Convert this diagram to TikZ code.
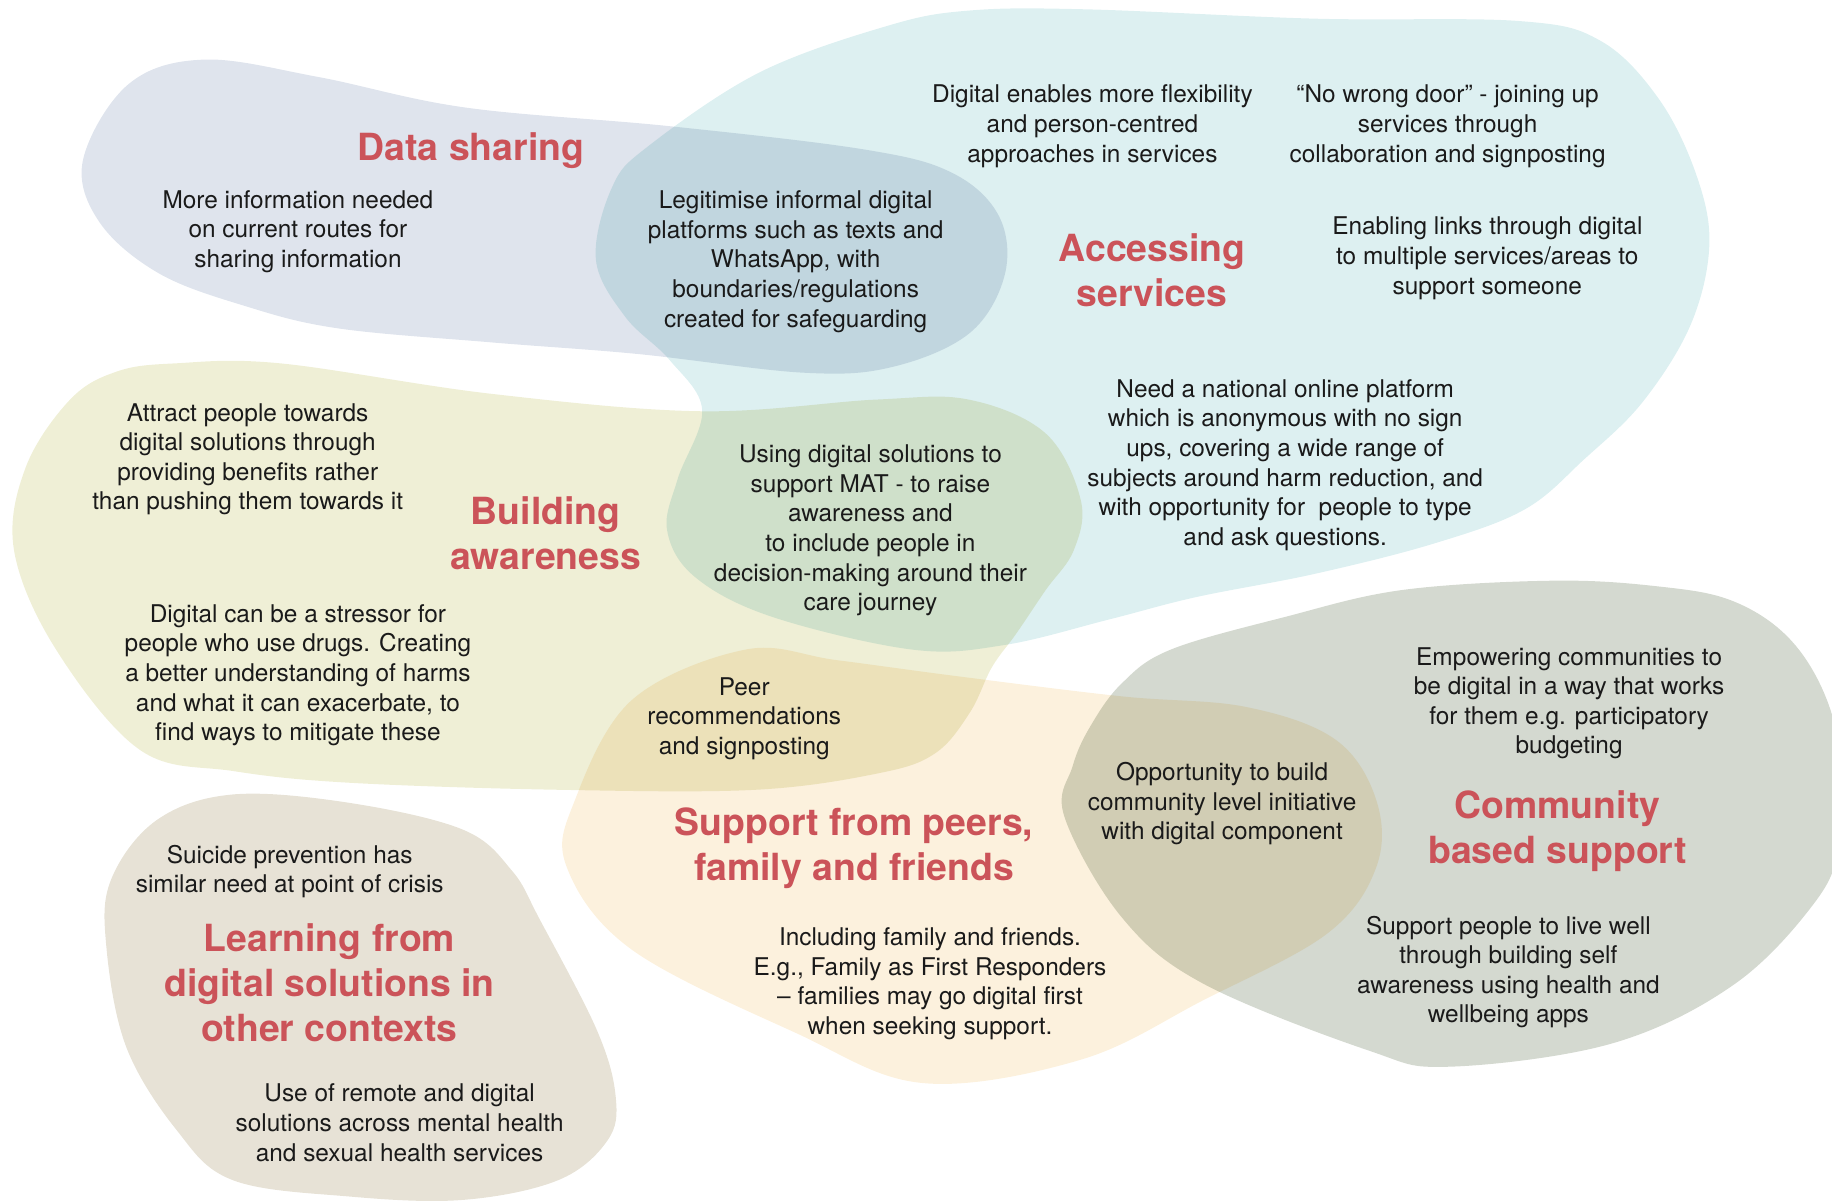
\documentclass[tikz,border=0pt]{standalone}
\usepackage{fontspec}
\setmainfont{TeX Gyre Heros}
\definecolor{lav}{HTML}{DFE4ED}
\definecolor{cya}{HTML}{DDF0F1}
\definecolor{yel}{HTML}{EFEFD6}
\definecolor{pea}{HTML}{FCF1DD}
\definecolor{gry}{HTML}{D4D9D0}
\definecolor{bei}{HTML}{E7E2D6}
\definecolor{ttlred}{HTML}{CB5359}
\definecolor{ink}{HTML}{1A1A1A}
\tikzset{
  txt/.style={align=center, inner sep=0pt, text=ink, font=\fontsize{12.2}{14.8}\selectfont},
  ttl/.style={align=center, inner sep=0pt, text=ttlred, font=\fontsize{18.7}{22.5}\selectfont\bfseries},
  blob/.style={smooth cycle, tension=0.6}
}
\begin{document}
\begin{tikzpicture}[x=0.5842pt, y=-0.5842pt]
\useasboundingbox (0,0) rectangle (1568,1028);
\clip (0,0) rectangle (1568,1028);
\begin{scope}[blend mode=multiply]
% Data sharing
\fill[lav] plot[blob] coordinates {(71,137) (85,190) (136,234) (210,262) (289,281) (420,293) (546,303) (688,319) (764,314) (830,285) (860,235) (855,185) (815,148) (740,128) (573,108) (398,92) (273,66) (175,51) (110,72)};
% Accessing services
\fill[cya] plot[blob] coordinates {(760,22) (830,9) (930,8) (1126,16) (1300,18) (1370,35) (1420,85) (1452,150) (1463,210) (1447,278) (1406,344) (1356,393) (1305,436) (1228,465) (1126,491) (1024,511) (950,530) (860,552) (781,556) (661,528) (595,494) (571,454) (580,410) (601,351) (573,308) (535,271) (510,222) (524,160) (555,125) (650,62)};
% Building awareness
\fill[yel] plot[blob] coordinates {(60,342) (100,318) (150,311) (240,311) (420,337) (600,352) (750,342) (829,342) (895,371) (925,428) (919,471) (895,505) (870,542) (849,571) (830,610) (800,645) (751,662) (646,676) (480,676) (300,670) (200,660) (120,642) (48,556) (12,471) (22,400)};
% Support from peers
\fill[pea] plot[blob] coordinates {(638,556) (716,565) (821,579) (960,596) (1066,605) (1143,633) (1178,685) (1178,742) (1136,799) (1030,856) (925,907) (790,927) (681,884) (541,813) (485,742) (492,685) (541,599)};
% Community
\fill[gry] plot[blob] coordinates {(1002,556) (1100,528) (1200,505) (1330,497) (1420,502) (1482,514) (1530,545) (1562,595) (1578,660) (1575,720) (1555,770) (1485,842) (1380,893) (1240,913) (1171,899) (1030,842) (960,785) (911,699) (918,656) (933,622) (960,585)};
% Learning
\fill[bei] plot[blob] coordinates {(199,680) (298,687) (396,710) (438,745) (462,787) (511,882) (527,939) (520,976) (478,1010) (396,1027) (298,1024) (199,1010) (151,967) (108,896) (91,810) (95,753) (134,702)};
\end{scope}

\node[ttl] (tdata) at (403,129) {Data sharing};
\node[txt] (moreinfo) at (255,198) {More information needed\\on current routes for\\sharing information};
\node[txt] (legit) at (681,224) {Legitimise informal digital\\platforms such as texts and\\WhatsApp, with\\boundaries/regulations\\created for safeguarding};
\node[txt] (flex) at (935,108) {Digital enables more flexibility\\and person-centred\\approaches in services};
\node[txt] (door) at (1239,108) {“No wrong door” - joining up\\services through\\collaboration and signposting};
\node[ttl] (tacc) at (986,231) {Accessing\\services};
\node[txt] (links) at (1273,221) {Enabling links through digital\\to multiple services/areas to\\support someone};
\node[txt] (natl) at (1100,398) {Need a national online platform\\which is anonymous with no sign\\ups, covering a wide range of\\subjects around harm reduction, and\\with opportunity for\ \ people to type\\and ask questions.};
\node[txt] (attract) at (212,393) {Attract people towards\\digital solutions through\\providing benefits rather\\than pushing them towards it};
\node[ttl] (tbuild) at (467,456) {Building\\awareness};
\node[txt] (mat) at (745,454) {Using digital solutions to\\support MAT - to raise\\awareness and\\to include people in\\decision-making around their\\care journey};
\node[txt] (stress) at (255,578) {Digital can be a stressor for\\people who use drugs. Creating\\a better understanding of harms\\and what it can exacerbate, to\\find ways to mitigate these};
\node[txt] (peer) at (637,615) {Peer\\recommendations\\and signposting};
\node[ttl] (tsupp) at (731,726) {Support from peers,\\family and friends};
\node[txt] (opp) at (1046,688) {Opportunity to build\\community level initiative\\with digital component};
\node[txt] (empower) at (1343,602) {Empowering communities to\\be digital in a way that works\\for them e.g. participatory\\budgeting};
\node[ttl] (tcomm) at (1333,711) {Community\\based support};
\node[txt] (live) at (1291,832) {Support people to live well\\through building self\\awareness using health and\\wellbeing apps};
\node[txt] (family) at (796,842) {Including family and friends.\\E.g., Family as First Responders\\– families may go digital first\\when seeking support.};
\node[txt] (suicide) at (248,746) {Suicide prevention has\\similar need at point of crisis};
\node[ttl] (tlearn) at (282,841) {Learning from\\digital solutions in\\other contexts};
\node[txt] (remote) at (342,961) {Use of remote and digital\\solutions across mental health\\and sexual health services};
\end{tikzpicture}
\end{document}
